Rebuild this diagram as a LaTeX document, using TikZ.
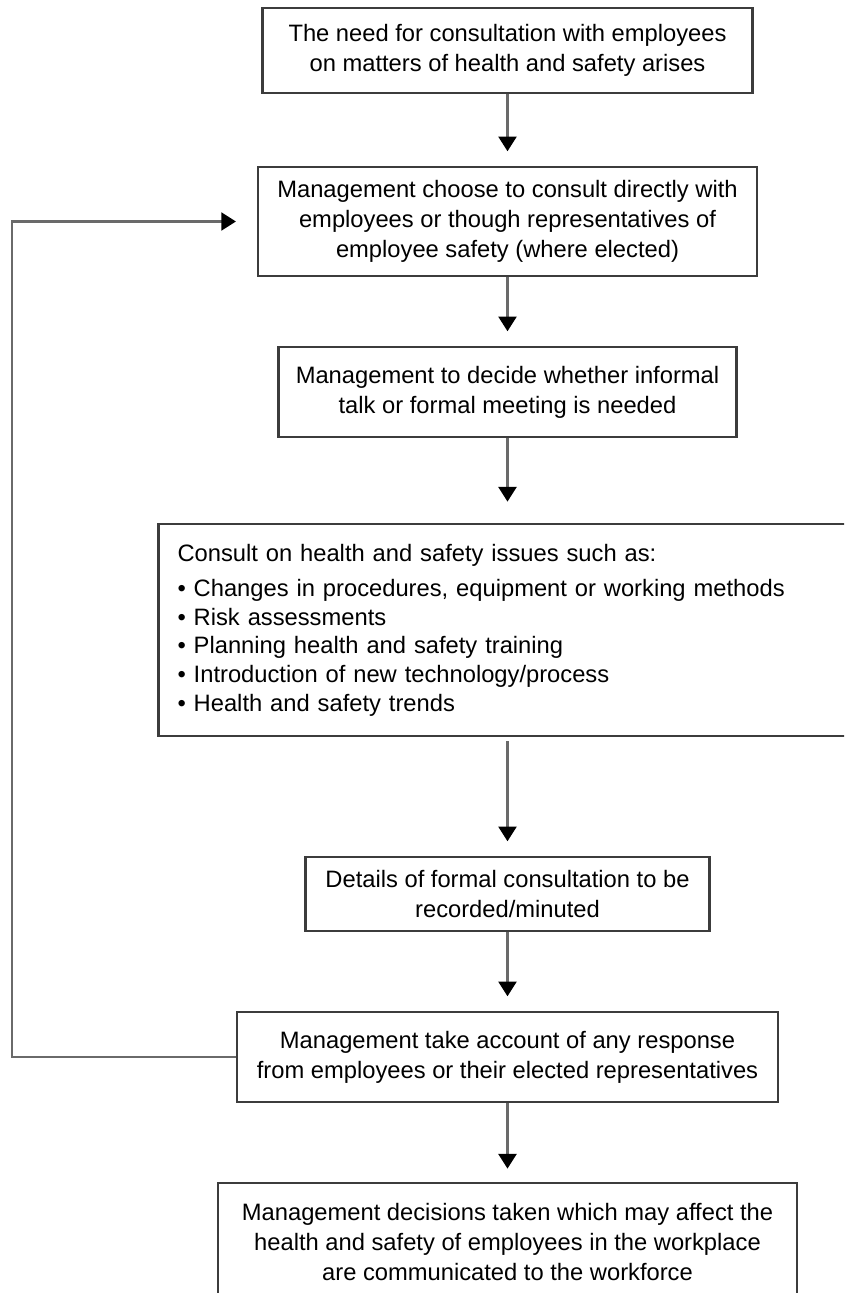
\documentclass[tikz,border=0pt]{standalone}
\usepackage{fontspec}
\setmainfont{Liberation Sans}
\usetikzlibrary{positioning,arrows.meta}

\definecolor{edgegray}{HTML}{3C3C3C}
\definecolor{linegray}{HTML}{6A6A6A}

\tikzset{
  box/.style={draw=edgegray, line width=1.6pt, align=center, inner sep=0pt,
    font=\fontsize{17.8}{22.5}\selectfont},
  flow/.style={draw=linegray, line width=1.7pt,
    -{Triangle[width=13.5pt,length=11pt,color=black]}, shorten >=11pt},
}

\begin{document}
\begin{tikzpicture}[x=0.75pt,y=-0.75pt]
    \useasboundingbox (0,0) rectangle (844,1293);
    \clip (0,0) rectangle (844,1293);

    \node[box, minimum width=367.5pt, minimum height=63.75pt] (need) at (507.5,50.5)
      {The need for consultation with employees\\on matters of health and safety arises};
    \node[box, minimum width=374.25pt, minimum height=81.75pt] (choose) at (507.5,221.5)
      {Management choose to consult directly with\\employees or though representatives of\\employee safety (where elected)};
    \node[box, minimum width=343.5pt, minimum height=67.5pt] (decide) at (507.5,392)
      {Management to decide whether informal\\talk or formal meeting is needed};
    \node[box, align=left, text width=495pt, inner xsep=14.25pt, minimum height=159pt,
      font=\fontsize{17.8}{21.5}\selectfont] (consult) at (507.5,630)
      {Consult on health and safety issues such as:\\[5pt]
       • Changes in procedures, equipment or working methods\\
       • Risk assessments\\
       • Planning health and safety training\\
       • Introduction of new technology/process\\
       • Health and safety trends};
    \node[box, minimum width=303pt, minimum height=55.5pt] (record) at (507.5,894)
      {Details of formal consultation to be\\recorded/minuted};
    \node[box, minimum width=405.75pt, minimum height=67.5pt] (respond) at (507.5,1057)
      {Management take account of any response\\from employees or their elected representatives};
    \node[box, minimum width=434.25pt, minimum height=88.5pt] (inform) at (507.5,1242)
      {Management decisions taken which may affect the\\health and safety of employees in the workplace\\are communicated to the workforce};

    \coordinate (rail) at (12,600);

    \draw[flow] (need) -- (choose);
    \draw[flow] (choose) -- (decide);
    \draw[flow, shorten >=16pt] (decide) -- (consult);
    \draw[flow, shorten <=3pt] (consult) -- (record);
    \draw[flow] (record) -- (respond);
    \draw[flow, shorten >=10pt] (respond) -- (inform);
    % back to the choice of how to consult
    \draw[flow, shorten >=15.75pt] (respond.west) -| (rail) |- (choose.west);
\end{tikzpicture}
\end{document}
